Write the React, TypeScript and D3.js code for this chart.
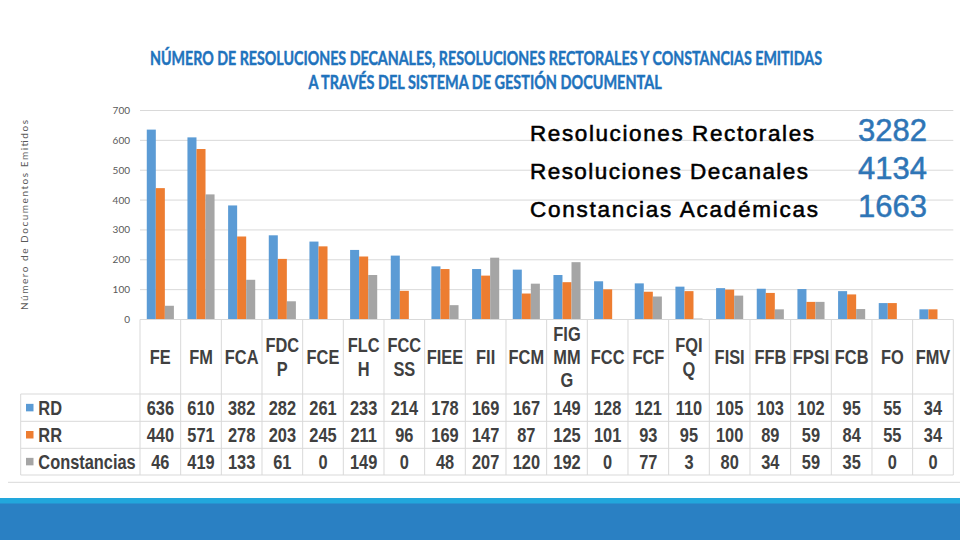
import React, { useLayoutEffect, useRef, useState } from "react";
import * as d3 from "d3";

const categories = ["FE","FM","FCA","FDCP","FCE","FLCH","FCCSS","FIEE","FII","FCM","FIGMMG","FCC","FCF","FQIQ","FISI","FFB","FPSI","FCB","FO","FMV"];
const categoryLines = [["FE"],["FM"],["FCA"],["FDC","P"],["FCE"],["FLC","H"],["FCC","SS"],["FIEE"],["FII"],["FCM"],["FIG","MM","G"],["FCC"],["FCF"],["FQI","Q"],["FISI"],["FFB"],["FPSI"],["FCB"],["FO"],["FMV"]];
const rd = [636,610,382,282,261,233,214,178,169,167,149,128,121,110,105,103,102,95,55,34];
const rr = [440,571,278,203,245,211,96,169,147,87,125,101,93,95,100,89,59,84,55,34];
const constancias = [46,419,133,61,0,149,0,48,207,120,192,0,77,3,80,34,59,35,0,0];
const seriesNames = ["RD","RR","Constancias"];
const seriesColors = ["#5b9bd5","#ed7d31","#a5a5a5"];
const yTicks = [0,100,200,300,400,500,600,700];
const titleLines = [
  "NÚMERO DE RESOLUCIONES DECANALES, RESOLUCIONES RECTORALES Y CONSTANCIAS EMITIDAS",
  "A TRAVÉS DEL SISTEMA DE GESTIÓN DOCUMENTAL",
];
const yAxisTitle = "Número de Documentos Emitidos";
const totalsLabels = ["Resoluciones Rectorales","Resoluciones Decanales","Constancias Académicas"];
const totalsValues = [3282,4134,1663];

function FitText({ x, y, width, children, ...rest }: any) {
  const ref = useRef<SVGTextElement>(null);
  const [s, setS] = useState(0.7);
  useLayoutEffect(() => {
    if (ref.current) {
      const w = ref.current.getComputedTextLength();
      if (w > 0) setS(width / w);
    }
  }, [width, children]);
  return (
    <text ref={ref} transform={`translate(${x},${y}) scale(${s},1)`} {...rest}>{children}</text>
  );
}

export default function App() {
  const W = 960, H = 540;
  const plotLeft = 140, plotRight = 953.3;
  const y0 = 319.5, yTop = 110.5;
  const series = [rd, rr, constancias];

  const x = d3.scaleBand<string>().domain(categories).range([plotLeft, plotRight]).paddingInner(0).paddingOuter(0);
  const xs = d3.scaleBand<string>().domain(seriesNames).range([0, x.bandwidth()]).paddingInner(0).paddingOuter(0.75);
  const y = d3.scaleLinear().domain([0, 700]).range([y0, yTop]);

  const rowEdges = [394, 421.3, 448.3, 475];
  const tableLeft = 20.7;
  const gridColor = "#d9d9d9";
  const textDark = "#404040";
  const narrow = "'Liberation Sans', Arial, sans-serif";

  const NarrowText = ({ x: tx, y: ty, children, anchor = "middle" }: any) => (
    <text transform={`translate(${tx},${ty}) scale(0.82,1)`} textAnchor={anchor}
      fontFamily={narrow} fontWeight="bold" fontSize={20} fill={textDark}>{children}</text>
  );

  return (
    <div style={{ position: "absolute", left: 0, top: 0, width: W, height: H, background: "#fff" }}>
      <svg width={W} height={H} viewBox={`0 0 ${W} ${H}`} style={{ display: "block" }}>
        <rect x={0} y={0} width={W} height={H} fill="#fff" />

        {/* Title */}
        <FitText x={150} y={65} width={672} fontFamily="Lato, 'Open Sans', sans-serif" fontWeight="bold" fontSize={18}
          fill="#1f73bd" stroke="#1f73bd" strokeWidth={0.45}>{titleLines[0]}</FitText>
        <FitText x={308.5} y={88.5} width={353} fontFamily="Lato, 'Open Sans', sans-serif" fontWeight="bold" fontSize={18}
          fill="#1f73bd" stroke="#1f73bd" strokeWidth={0.45}>{titleLines[1]}</FitText>

        {/* Y axis title */}
        <text transform="translate(28,215) rotate(-90)" textAnchor="middle" fontFamily="Lato, 'Open Sans', sans-serif"
          fontSize={10} fill="#595959" textLength={190} lengthAdjust="spacing">{yAxisTitle}</text>

        {/* Gridlines & ticks */}
        {yTicks.map((t) => (
          <g key={t}>
            {t > 0 && <line x1={plotLeft} x2={plotRight} y1={y(t)} y2={y(t)} stroke={gridColor} strokeWidth={1} />}
            <text x={130} y={y(t)} dy="0.35em" textAnchor="end" fontFamily="Lato, 'Open Sans', sans-serif"
              fontSize={10} fill="#595959">{t}</text>
          </g>
        ))}

        {/* Bars */}
        {categories.map((c, i) => (
          <g key={c}>
            {series.map((s, j) => (
              <rect key={j} x={(x(c) as number) + (xs(seriesNames[j]) as number)} width={xs.bandwidth()}
                y={y(s[i])} height={y0 - y(s[i])} fill={seriesColors[j]} />
            ))}
          </g>
        ))}

        {/* Totals overlay */}
        {totalsLabels.map((lab, i) => {
          const by = [140.7, 179, 216.7][i];
          const len = [284, 278, 288][i];
          return (
            <g key={lab}>
              <text x={530} y={by} fontFamily="'Liberation Sans', Arial, sans-serif" fontSize={22.5}
                fill="#000" stroke="#000" strokeWidth={0.55} textLength={len} lengthAdjust="spacing">{lab}</text>
              <text x={927} y={by} textAnchor="end" fontFamily="'Liberation Sans', Arial, sans-serif" fontSize={31}
                fill="#2e75b6" stroke="#2e75b6" strokeWidth={0.5}>{totalsValues[i]}</text>
            </g>
          );
        })}

        {/* Data table */}
        <g stroke={gridColor} strokeWidth={1} fill="none">
          <line x1={plotLeft} x2={plotRight} y1={y0} y2={y0} />
          {rowEdges.map((ry) => (
            <line key={ry} x1={tableLeft} x2={plotRight} y1={ry} y2={ry} />
          ))}
          <line x1={tableLeft} x2={tableLeft} y1={rowEdges[0]} y2={rowEdges[3]} />
          {categories.map((c) => (
            <line key={c} x1={x(c) as number} x2={x(c) as number} y1={y0} y2={rowEdges[3]} />
          ))}
          <line x1={plotRight} x2={plotRight} y1={y0} y2={rowEdges[3]} />
        </g>

        {/* Header labels */}
        {categories.map((c, i) => {
          const lines = categoryLines[i];
          const cx = (x(c) as number) + x.bandwidth() / 2;
          const cy = (y0 + rowEdges[0]) / 2;
          const lh = 23.3;
          return lines.map((ln, k) => (
            <NarrowText key={c + k} x={cx} y={cy + (k - (lines.length - 1) / 2) * lh + 7.3}>{ln}</NarrowText>
          ));
        })}

        {/* Rows */}
        {series.map((s, j) => {
          const top = rowEdges[j], bot = rowEdges[j + 1];
          const cy = (top + bot) / 2;
          return (
            <g key={seriesNames[j]}>
              <rect x={26} y={cy - 3.8} width={7.5} height={7.5} fill={seriesColors[j]} />
              <NarrowText x={38.3} y={cy + 7.3} anchor="start">{seriesNames[j]}</NarrowText>
              {categories.map((c, i) => (
                <NarrowText key={c} x={(x(c) as number) + x.bandwidth() / 2} y={cy + 7.3}>{s[i]}</NarrowText>
              ))}
            </g>
          );
        })}

        {/* Separator line & footer band */}
        <line x1={8} x2={960} y1={482.3} y2={482.3} stroke={gridColor} strokeWidth={1} />
        <rect x={0} y={498} width={W} height={6} fill="#22a7dc" />
        <rect x={0} y={503.5} width={W} height={H - 503.5} fill="#2a80c3" />
      </svg>
    </div>
  );
}
